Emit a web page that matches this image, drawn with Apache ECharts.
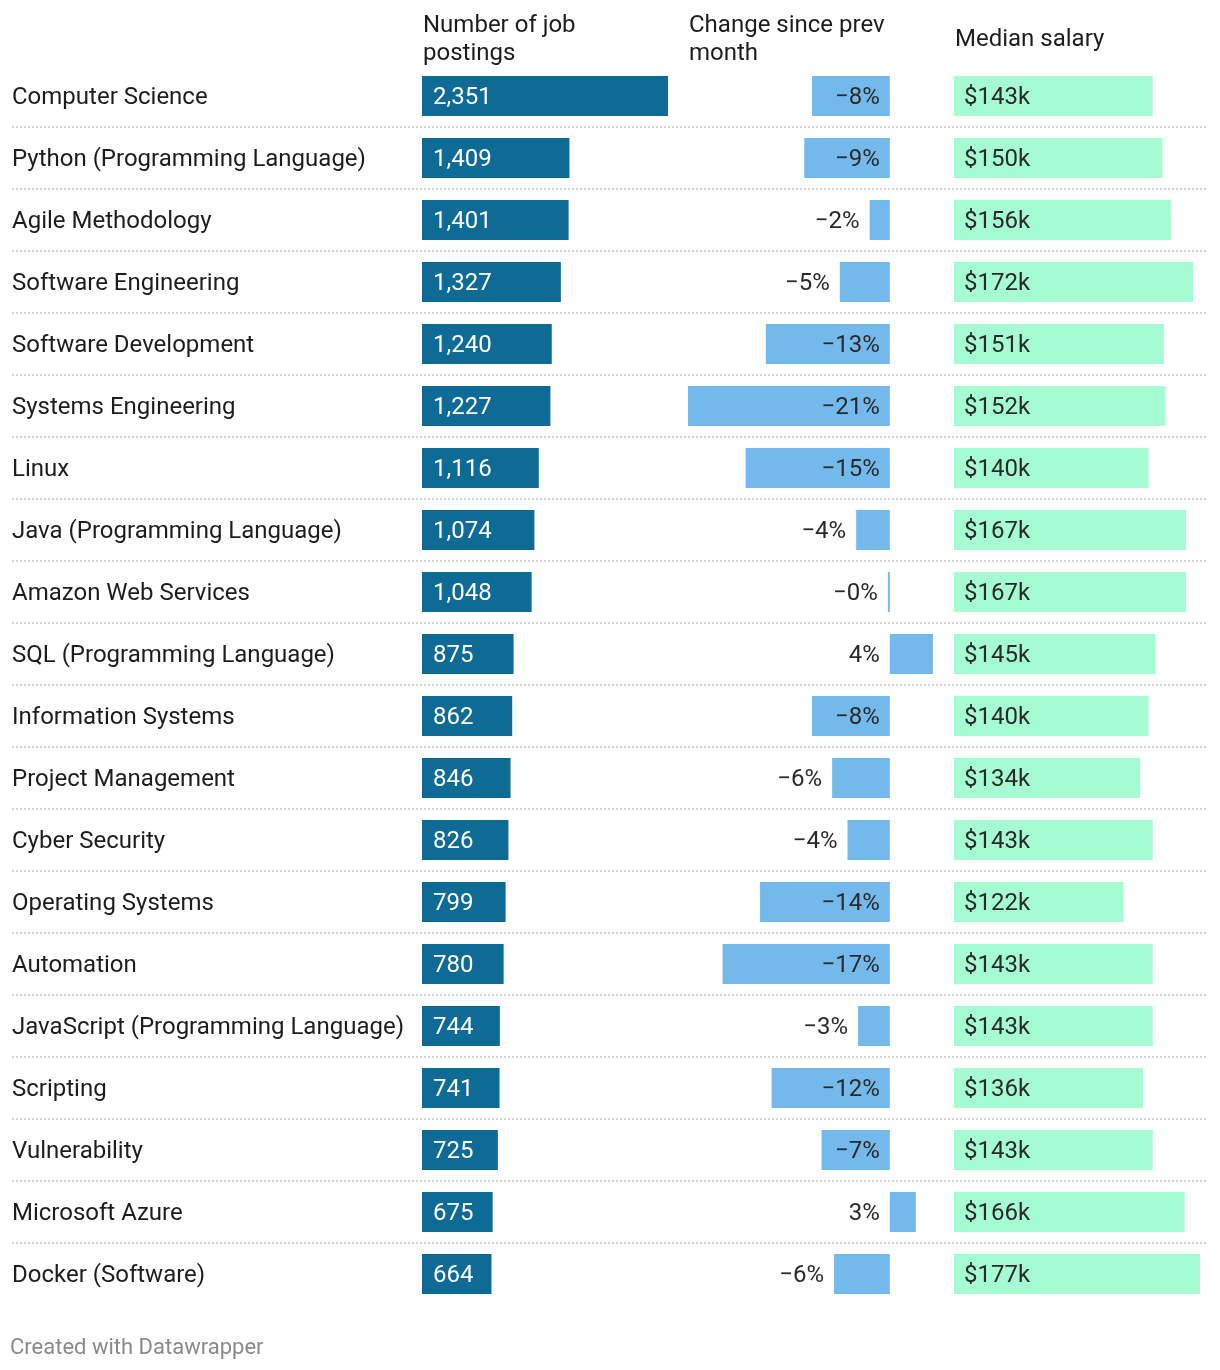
<!DOCTYPE html>
<html>
<head>
<meta charset="utf-8">
<script src="https://cdn.jsdelivr.net/npm/echarts@6/dist/echarts.min.js"></script>
<style>
html,body{margin:0;padding:0;background:#fff;}
#chart{width:1220px;height:1370px;}
</style>
</head>
<body>
<div id="chart"></div>
<script>
const categories = ["Computer Science","Python (Programming Language)","Agile Methodology","Software Engineering","Software Development","Systems Engineering","Linux","Java (Programming Language)","Amazon Web Services","SQL (Programming Language)","Information Systems","Project Management","Cyber Security","Operating Systems","Automation","JavaScript (Programming Language)","Scripting","Vulnerability","Microsoft Azure","Docker (Software)"];
const postings = [2351,1409,1401,1327,1240,1227,1116,1074,1048,875,862,846,826,799,780,744,741,725,675,664];
const changePct = [-8.1,-8.9,-2.1,-5.2,-12.9,-21.0,-15.0,-3.5,-0.2,4.49,-8.1,-6.0,-4.4,-13.5,-17.4,-3.3,-12.3,-7.1,2.7,-5.8];
const salaryK = [143,150,156,172,151,152,140,167,167,145,140,134,143,122,143,143,136,143,166,177];
const headers = ["Number of job\npostings","Change since prev\nmonth","Median salary"];
const footer = "Created with Datawrapper";

const FONT = 'Roboto, "Noto Sans", sans-serif';
const chart = echarts.init(document.getElementById('chart'), null, {renderer:'canvas'});

const rowTop = 65, rowH = 1240;
const LOFF = [0, 2];
function hiddenX(gi, min, max){ return {type:'value', gridIndex:gi, min:min, max:max, show:false}; }
function catY(gi, showLabels){
  return {type:'category', gridIndex:gi, data:categories, inverse:true,
    axisLine:{show:false}, axisTick:{show:false}, splitLine:{show:false},
    axisLabel: showLabels ? {show:true, align:'left', margin:410, fontSize:24, color:'#1d1d1d', fontFamily:FONT} : {show:false}};
}

const changeData = changePct.map(v => {
  const fits = Math.abs(v) >= 7;
  return {value:v, label:{position: fits ? 'insideRight' : 'left', distance:10}};
});
function fmtChange(v){
  const r = Math.round(Math.abs(v));
  return (v < 0 ? '\u2212' : '') + r + '%';
}
const headStyle = {fontSize:24, fontWeight:'normal', color:'#1d1d1d', lineHeight:28, fontFamily:FONT};

const option = {
  backgroundColor:'#ffffff',
  animation:false,
  textStyle:{fontFamily:FONT},
  title:[
    {text:headers[0], left:423, top:12, padding:0, textStyle:headStyle},
    {text:headers[1], left:689, top:12, padding:0, textStyle:headStyle},
    {text:headers[2], left:955, top:26, padding:0, textStyle:headStyle},
    {text:footer, left:10, top:1337, padding:0, textStyle:{fontSize:22, fontWeight:'normal', color:'#8a8a8a', fontFamily:FONT}}
  ],
  grid:[
    {left:422, top:rowTop, width:246, height:rowH},
    {left:688, top:rowTop, width:246, height:rowH},
    {left:954, top:rowTop, width:246, height:rowH},
    {left:12, top:127, width:1196, height:1116},
    {left:422, top:rowTop + 2, width:246, height:rowH}
  ],
  xAxis:[
    hiddenX(0, 0, 2351),
    hiddenX(1, -21, 4.6),
    hiddenX(2, 0, 177),
    {type:'value', gridIndex:3, show:false, min:0, max:1},
    {type:'value', gridIndex:4, show:false, min:0, max:1}
  ],
  yAxis:[
    catY(0, false),
    catY(1, false),
    catY(2, false),
    {type:'value', gridIndex:3, min:0, max:18, interval:1,
     axisLine:{show:false}, axisTick:{show:false}, axisLabel:{show:false},
     splitLine:{show:true, lineStyle:{color:'#c8c8c8', width:1.5, type:[2,2]}}},
    catY(4, true)
  ],
  series:[
    {type:'bar', xAxisIndex:0, yAxisIndex:0, data:postings, barWidth:40, silent:true,
     itemStyle:{color:'#0e6b96'},
     label:{show:true, position:'insideLeft', distance:11, offset:LOFF, color:'#ffffff', fontSize:24, fontFamily:FONT,
       formatter:p => p.value.toLocaleString('en-US')}},
    {type:'bar', xAxisIndex:1, yAxisIndex:1, data:changeData, barWidth:40, silent:true,
     itemStyle:{color:'#74b9ec'},
     label:{show:true, color:'#2a2a2a', offset:LOFF, fontSize:24, fontFamily:FONT,
       formatter:p => fmtChange(p.value)}},
    {type:'bar', xAxisIndex:2, yAxisIndex:2, data:salaryK, barWidth:40, silent:true,
     itemStyle:{color:'#a6fcd2'},
     label:{show:true, position:'insideLeft', distance:10, offset:LOFF, color:'#2a2a2a', fontSize:24, fontFamily:FONT,
       formatter:p => '$' + p.value + 'k'}}
  ]
};
chart.setOption(option);
</script>
</body>
</html>
